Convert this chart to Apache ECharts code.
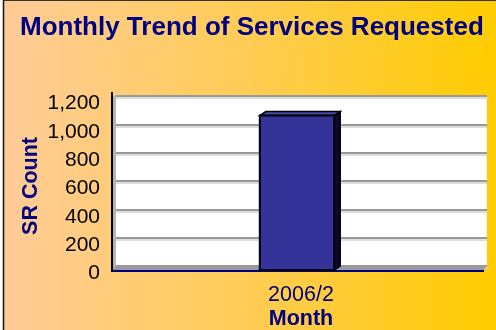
<!DOCTYPE html>
<html>
<head>
<meta charset="utf-8">
<style>
  html, body { margin: 0; padding: 0; background: #fff; }
  #chart { width: 496px; height: 330px; }
</style>
<script src="https://cdn.jsdelivr.net/npm/echarts@6/dist/echarts.min.js"></script>
</head>
<body>
<div id="chart"></div>
<script>
// Service request counts per month
const months = ['2006/2'];
const srCounts = [1090];
const yTicks = [0, 200, 400, 600, 800, 1000, 1200];

const NAVY = '#000080';
const FONT = '"Liberation Sans", Arial, sans-serif';

// depth of the pseudo-3D column and floor, in pixels
const DX = 6, DY = 4;

function withCommas(v) {
  return String(v).replace(/\B(?=(\d{3})+(?!\d))/g, ',');
}

function renderColumn(params, api) {
  const cs = params.coordSys;
  const idx = api.value(0);
  const val = api.value(1);
  const base = api.coord([idx, 0]);
  const top = api.coord([idx, val]);
  const w = api.size([1, 0])[0] * 0.2;
  const cx = base[0];
  // back face sits on the gridline plane, front face shifted toward the viewer
  const bl = cx - w / 2 + 2, br = cx + w / 2 + 2;
  const fl = bl - DX, fr = br - DX;
  const yb = base[1], yt = top[1];
  const children = [];
  if (params.dataIndex === 0) {
    // floor of the plot
    children.push({
      type: 'polygon',
      shape: { points: [[cs.x, yb - 1], [cs.x + cs.width, yb - 1], [cs.x + cs.width - 3, yb + DY], [cs.x - 3, yb + DY]] },
      style: { fill: '#9a9a9a' }
    });
    // front edge of the floor
    children.push({
      type: 'line',
      shape: { x1: cs.x - 3, y1: yb + DY + 1, x2: cs.x + cs.width - 3, y2: yb + DY + 1 },
      style: { stroke: NAVY, lineWidth: 2 }
    });
    // left wall edge
    children.push({
      type: 'polygon',
      shape: { points: [[cs.x + 1, cs.y - 1], [cs.x + 1, yb], [cs.x - 3, yb + DY], [cs.x - 3, cs.y + 1]] },
      style: { fill: '#b4b4b4' }
    });
    // wall axis line
    children.push({
      type: 'line',
      shape: { x1: cs.x - 3, y1: cs.y - 4, x2: cs.x - 3, y2: yb + DY + 2 },
      style: { stroke: '#000', lineWidth: 2 }
    });
  }
  // top face
  children.push({
    type: 'polygon',
    shape: { points: [[bl, yt], [br, yt], [fr, yt + DY], [fl, yt + DY]] },
    style: { fill: '#4848a8', stroke: '#000', lineWidth: 1.5 }
  });
  // right side face
  children.push({
    type: 'polygon',
    shape: { points: [[br, yt], [br, yb], [fr, yb + DY], [fr, yt + DY]] },
    style: { fill: '#0a0a30', stroke: '#000', lineWidth: 1.5 }
  });
  // front face
  children.push({
    type: 'rect',
    shape: { x: fl, y: yt + DY, width: fr - fl, height: yb - yt },
    style: { fill: '#333399', stroke: '#000', lineWidth: 2 }
  });
  return { type: 'group', children: children };
}

const chart = echarts.init(document.getElementById('chart'), null, { renderer: 'canvas' });

chart.setOption({
  animation: false,
  backgroundColor: {
    type: 'linear', x: 0, y: 0, x2: 1, y2: 0,
    colorStops: [
      { offset: 0, color: '#FFCC99' },
      { offset: 0.5, color: '#FFCC55' },
      { offset: 1, color: '#FFCC00' }
    ]
  },
  title: {
    text: 'Monthly Trend of Services Requested',
    left: 15, top: 10,
    textStyle: { fontFamily: FONT, fontSize: 26, fontWeight: 'bold', color: NAVY }
  },
  grid: {
    left: 115, right: 9, top: 96, bottom: 64,
    outerBoundsMode: 'none',
    containLabel: false,
    show: true, backgroundColor: '#ffffff', borderWidth: 0
  },
  xAxis: {
    type: 'category',
    data: months,
    axisLine: { show: false },
    axisTick: { show: false },
    axisLabel: { fontFamily: FONT, fontSize: 21.5, color: NAVY, margin: 18 },
    name: 'Month',
    nameLocation: 'middle',
    nameGap: 42,
    nameMoveOverlap: false,
    nameTextStyle: { fontFamily: FONT, fontSize: 21.5, fontWeight: 'bold', color: NAVY }
  },
  yAxis: {
    type: 'value',
    min: yTicks[0],
    max: yTicks[yTicks.length - 1],
    interval: yTicks[1] - yTicks[0],
    axisLine: { show: false },
    axisTick: { show: false },
    axisLabel: {
      fontFamily: FONT, fontSize: 21, color: '#000', margin: 15,
      verticalAlign: 'top', lineHeight: 15, formatter: withCommas
    },
    splitLine: {
      show: true,
      lineStyle: { color: '#999999', width: 2, shadowColor: '#dddddd', shadowOffsetY: 2 }
    },
    name: 'SR Count',
    nameLocation: 'middle',
    nameRotate: 90,
    nameGap: 73,
    nameMoveOverlap: false,
    nameTextStyle: {
      fontFamily: FONT, fontSize: 21.5, fontWeight: 'bold', color: NAVY,
      padding: [0, 10, 0, 0]
    }
  },
  series: [{
    type: 'custom',
    renderItem: renderColumn,
    data: months.map((m, i) => [i, srCounts[i]]),
    encode: { x: 0, y: 1 },
    clip: false,
    z: 3
  }],
  graphic: [
    { type: 'rect', left: 0, top: 0, shape: { width: 3, height: 330 }, style: { fill: '#ffffff' }, silent: true },
    { type: 'line', shape: { x1: 3.5, y1: 0, x2: 3.5, y2: 330 }, style: { stroke: '#111', lineWidth: 1.5 }, silent: true },
    { type: 'line', shape: { x1: 3, y1: 0.5, x2: 496, y2: 0.5 }, style: { stroke: '#333', lineWidth: 1 }, silent: true }
  ]
});
</script>
</body>
</html>
